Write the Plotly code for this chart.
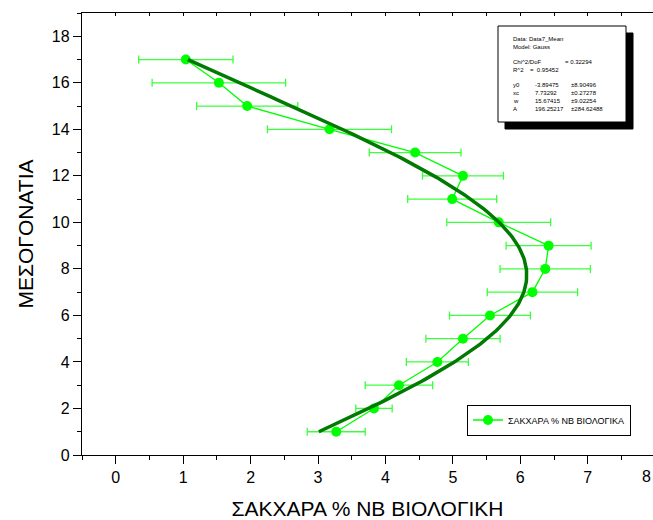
import numpy as np
import plotly.graph_objects as go

# Mean sugar content per internode (horizontal), with standard-error bars
mesogonatia = [1, 2, 3, 4, 5, 6, 7, 8, 9, 10, 11, 12, 13, 14, 15, 16, 17]
sakxara = [3.27, 3.83, 4.20, 4.77, 5.15, 5.55, 6.18, 6.37, 6.42, 5.68, 4.99, 5.15, 4.44, 3.17, 1.95, 1.53, 1.04]
sakxara_err = [0.43, 0.27, 0.50, 0.46, 0.55, 0.60, 0.67, 0.67, 0.63, 0.77, 0.66, 0.60, 0.68, 0.92, 0.75, 0.99, 0.70]

# Gauss fit parameters (Origin form: y0 + A/(w*sqrt(pi/2)) * exp(-2((t-xc)/w)^2))
fit_params = {"y0": -3.89475, "xc": 7.73292, "w": 15.67415, "A": 196.25217}
fit_errors = {"y0": 8.90496, "xc": 0.27278, "w": 9.02254, "A": 284.62488}
chi2_dof = 0.32294
r2 = 0.95452

x_ticks = [0, 1, 2, 3, 4, 5, 6, 7]
y_ticks = [0, 2, 4, 6, 8, 10, 12, 14, 16, 18]

W, H = 653, 520
ML, MR, MT, MB = 82, 0, 13, 65
PW, PH = W - ML - MR, H - MT - MB
X_UNIT = 67.43
X_RANGE = [-0.5, -0.5 + PW / X_UNIT]
Y_RANGE = [0, 19]


def px(xp):
    return (xp - ML) / PW


def py(yp):
    return 1 - (yp - MT) / PH


def gauss(t, y0, xc, w, A):
    return y0 + A / (w * np.sqrt(np.pi / 2)) * np.exp(-2 * ((t - xc) / w) ** 2)


t_fit = np.linspace(min(mesogonatia), max(mesogonatia), 200)
x_fit = gauss(t_fit, **fit_params)

FONT = "Liberation Sans, Arial, sans-serif"
GREEN = "#00FF00"
DARK_GREEN = "#007A00"

fig = go.Figure()

fig.add_trace(go.Scatter(
    x=sakxara, y=mesogonatia,
    mode="lines+markers",
    name="ΣΑΚΧΑΡΑ % ΝΒ ΒΙΟΛΟΓΙΚΑ",
    line=dict(color=GREEN, width=1.3),
    marker=dict(color=GREEN, size=10),
    error_x=dict(type="data", array=sakxara_err, color="#3CFF3C",
                 thickness=1.3, width=4),
    cliponaxis=False,
))

fig.add_trace(go.Scatter(
    x=x_fit, y=t_fit,
    mode="lines",
    line=dict(color=DARK_GREEN, width=3.5),
    showlegend=False,
    hoverinfo="skip",
))

# Fit report box with drop shadow
box_l, box_r, box_t, box_b = 498, 626, 26, 122
shadow = 7
fig.add_shape(type="rect", xref="paper", yref="paper",
              x0=px(box_l + shadow), x1=px(box_r + shadow),
              y0=py(box_b + shadow), y1=py(box_t + shadow),
              fillcolor="black", line=dict(color="black", width=1), layer="above")
fig.add_shape(type="rect", xref="paper", yref="paper",
              x0=px(box_l), x1=px(box_r), y0=py(box_b), y1=py(box_t),
              fillcolor="white", line=dict(color="black", width=1), layer="above")

small = dict(family=FONT, size=6, color="black")
c0, c1, c2 = 511, 533, 569
report = [
    (c0, 39, "Data: Data7_Mean"),
    (c0, 47, "Model: Gauss"),
    (c0, 62, "Chi^2/DoF"),
    (563, 62, f"= {chi2_dof:.5f}"),
    (c0, 70, "R^2"),
    (528, 70, f"=  {r2:.5f}"),
]
row_y = [85, 93, 101, 109]
for yy, key in zip(row_y, ["y0", "xc", "w", "A"]):
    report.append((c0, yy, key))
    report.append((c1, yy, f"{fit_params[key]:.5f}"))
    report.append((c2, yy, f"±{fit_errors[key]:.5f}"))

for xx, yy, txt in report:
    fig.add_annotation(xref="paper", yref="paper", x=px(xx), y=py(yy),
                       text=txt, showarrow=False, xanchor="left",
                       yanchor="middle", font=small)

tick_font = dict(family=FONT, size=16, color="black")
title_font = dict(family=FONT, size=21, color="black")

# The "8" tick label sits at the right border, kept inside the page
fig.add_annotation(xref="paper", yref="paper",
                   x=1.0, y=py(476), text="8",
                   showarrow=False, xanchor="right", yanchor="middle",
                   font=tick_font)

fig.update_layout(
    width=W, height=H,
    margin=dict(l=ML, r=MR, t=MT, b=MB),
    paper_bgcolor="white", plot_bgcolor="white",
    xaxis=dict(
        range=X_RANGE, tickvals=x_ticks, ticktext=[str(v) for v in x_ticks],
        showgrid=False, zeroline=False, showline=True, linecolor="black",
        linewidth=1.3, ticks="outside", ticklen=8, tickwidth=1.3,
        tickcolor="black", tickfont=tick_font,
        minor=dict(dtick=0.5, tick0=0, ticks="outside", ticklen=4,
                   tickwidth=1.2, tickcolor="black"),
        title=dict(text="ΣΑΚΧΑΡΑ % ΝΒ ΒΙΟΛΟΓΙΚΗ", standoff=16,
                   font=title_font),
    ),
    xaxis2=dict(
        overlaying="x", matches="x", side="top", range=X_RANGE,
        showgrid=False, zeroline=False, showline=True, linecolor="black",
        linewidth=1.3, ticks="inside", ticklen=3, tickwidth=1,
        tickcolor="black", dtick=0.5, tick0=0, showticklabels=False,
    ),
    yaxis=dict(
        range=Y_RANGE, tickvals=y_ticks, ticktext=[str(v) for v in y_ticks],
        showgrid=False, zeroline=False, showline=True, linecolor="black",
        linewidth=1.3, ticks="outside", ticklen=8, tickwidth=1.3,
        tickcolor="black", tickfont=tick_font,
        minor=dict(dtick=1, tick0=0, ticks="outside", ticklen=4,
                   tickwidth=1.2, tickcolor="black"),
        title=dict(text="ΜΕΣΟΓΟΝΑΤΙΑ", standoff=12, font=title_font),
    ),
    legend=dict(
        x=px(467), y=py(420), xanchor="left", yanchor="middle",
        bgcolor="white", bordercolor="black", borderwidth=1,
        font=dict(family=FONT, size=9, color="black"),
        itemwidth=30,
    ),
    showlegend=True,
)

# empty trace on the top axis so its line and ticks are drawn
fig.add_trace(go.Scatter(x=[None], y=[None], xaxis="x2", showlegend=False,
                         hoverinfo="skip"))

fig.write_html("out.html")
